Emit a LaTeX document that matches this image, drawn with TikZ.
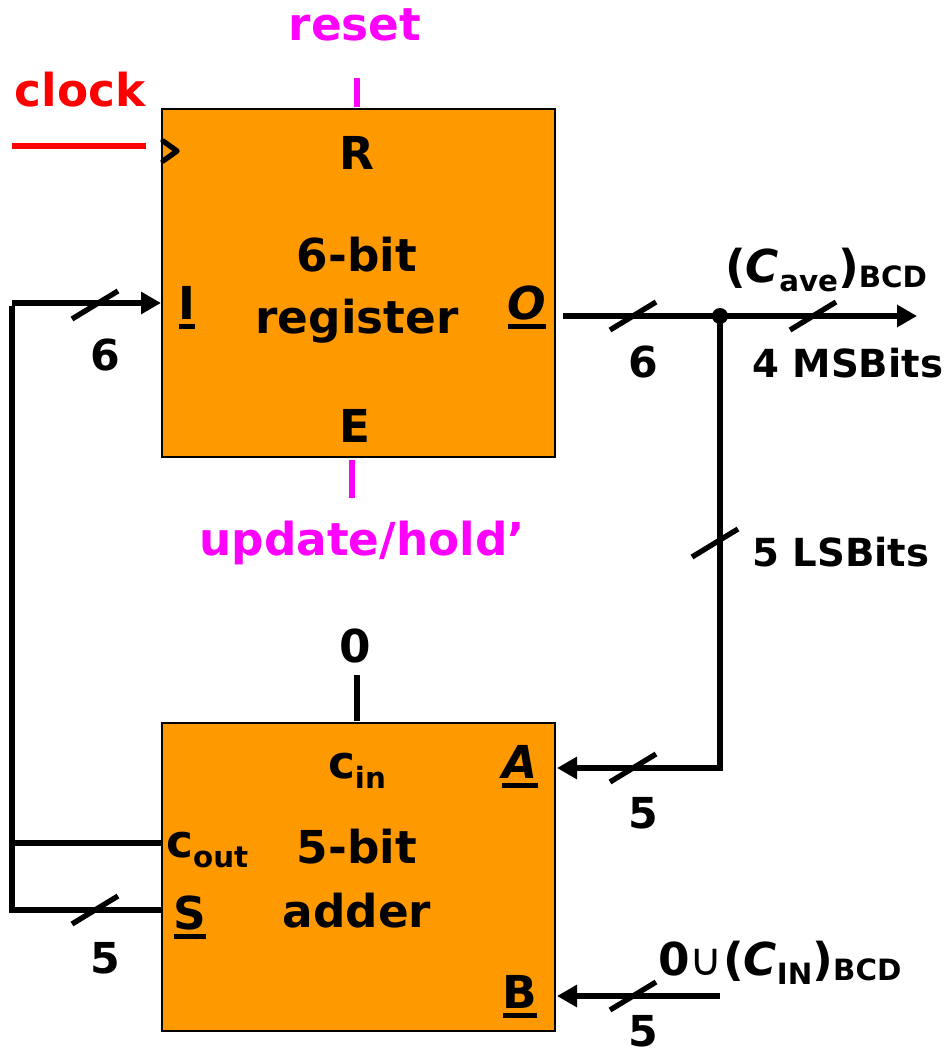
\documentclass[tikz,border=0pt]{standalone}
\usepackage{fontspec}
\setmainfont{DejaVu Sans}
\usetikzlibrary{arrows.meta}
\definecolor{boxorange}{HTML}{FF9900}
\definecolor{magentasig}{HTML}{FF00FF}
\definecolor{redsig}{HTML}{FF0000}
\newcommand\bigf{\fontsize{34}{38}\selectfont\bfseries}
\newcommand\numf{\fontsize{32}{36}\selectfont\bfseries}
\newcommand\midf{\fontsize{29}{33}\selectfont\bfseries}
\newcommand\smallf{\fontsize{22}{25}\selectfont\bfseries}
\newcommand\myul[1]{\setbox0=\hbox{#1}\leavevmode\rlap{\copy0}\raisebox{-7.5pt}{\rule{\wd0}{3.4pt}}}
\begin{document}
\begin{tikzpicture}[x=0.75pt,y=-0.75pt,
  blockbox/.style={draw=black,line width=1.5pt,fill=boxorange,minimum width=294.75pt,minimum height=261pt,inner sep=0pt},
  wire/.style={line width=4pt,line cap=butt},
  arrowwire/.style={wire,-{Triangle[length=15pt,width=16pt]}},
  txt/.style={inner sep=0pt,anchor=base,font=\bigf},
  lbl/.style={inner sep=0pt,anchor=base,font=\numf}
]
\useasboundingbox (0,0) rectangle (950,1055);
\newcommand\busmark[1]{\draw[wire] (#1) ++(-23,14) -- ++(46,-28);}

% boxes
\node[blockbox] (reg) at (358.5,283) {};
\node[blockbox,minimum height=231pt] (add) at (358.5,877) {};

% register texts
\node[txt] (R) at (357,170) {R};
\node[txt] (reg1) at (357,272) {6-bit};
\node[txt] (reg2) at (357,333) {register};
\node[txt] (I) at (187,319) {\myul{I}};
\node[txt] (O) at (527,319) {\myul{\textit{O}}};
\node[txt] (E) at (355,442) {E};

% adder texts
\node[txt] (cin) at (357,778) {c\raisebox{-8pt}{\smallf in}};
\node[txt] (A) at (520,778) {\myul{\textit{A}}};
\node[txt,anchor=base west] (cout) at (166,857) {c\raisebox{-8pt}{\smallf out}};
\node[txt] (add1) at (357,863) {5-bit};
\node[txt] (add2) at (357,927) {adder};
\node[txt] (S) at (190,929) {\myul{S}};
\node[txt] (B) at (520,1008) {\myul{B}};

% control signals
\node[txt,text=magentasig] (reset) at (355,41) {reset};
\coordinate (rtop) at (357,78);
\coordinate (rbot) at (357,107);
\draw[wire,magentasig] (rtop) -- (rbot);

\node[txt,text=redsig] (clock) at (80,107) {clock};
\coordinate (clkL) at (12,146);
\coordinate (clkR) at (146,146);
\draw[wire,redsig] (clkL) -- (clkR);
\coordinate (chA) at (163,141);
\coordinate (chB) at (177,151);
\coordinate (chC) at (163,161);
\draw[line width=4pt,line cap=round,line join=round] (chA) -- (chB) -- (chC);

\coordinate (etop) at (352,460);
\coordinate (ebot) at (352,498);
\draw[wire,magentasig] (etop) -- (ebot);
\node[txt,text=magentasig] (upd) at (362,555) {update/hold'};

% carry-in constant
\node[txt] (zero) at (355,662) {0};
\coordinate (ztop) at (357,675);
\coordinate (zbot) at (357,721);
\draw[wire] (ztop) -- (zbot);

% feedback loop
\coordinate (fbTop) at (12,303);
\coordinate (fbBot) at (12,910);
\coordinate (inI) at (161,303);
\coordinate (sOut) at (162,910);
\draw[wire] (sOut) -- (fbBot) -- ([yshift=-2pt]fbTop);
\draw[arrowwire] (fbTop) -- (inI);
\busmark{95,305}
\node[lbl] (six1) at (105,370) {6};
\coordinate (coL) at (14,843);
\coordinate (coR) at (162,843);
\draw[wire] (coL) -- (coR);
\busmark{95,910}
\node[lbl] (five1) at (105,973) {5};

% output
\coordinate (oStart) at (563,316);
\coordinate (split) at (720,316);
\coordinate (oEnd) at (917,316);
\draw[arrowwire] (oStart) -- (oEnd);
\fill (split) circle (8);
\busmark{633,316}
\busmark{813,316}
\node[lbl] (six2) at (643,377) {6};
\node[txt,anchor=base west,font=\midf] (msb) at (752,377) {4 MSBits};
\node[txt,anchor=base west] (cave) at (725,282) {(\textit{C}\raisebox{-7pt}{\smallf ave})\raisebox{-4pt}{\smallf BCD}};

% LSBits path to A
\coordinate (corner) at (720,768);
\coordinate (inA) at (557,768);
\draw[wire] ([yshift=2pt]split) -- ([yshift=-2pt]corner);
\draw[arrowwire] ([xshift=2pt]corner) -- (inA);
\busmark{715,543}
\node[txt,anchor=base west,font=\midf] (lsb) at (752,566) {5 LSBits};
\busmark{633,768}
\node[lbl] (five2) at (643,828) {5};

% B input
\coordinate (bStart) at (720,996);
\coordinate (inB) at (557,996);
\draw[arrowwire] (bStart) -- (inB);
\busmark{633,996}
\node[lbl] (five3) at (643,1046) {5};
\node[txt,anchor=base west] (cin2) at (658,975) {0{\mdseries∪}(\textit{C}\raisebox{-7pt}{\smallf IN})\raisebox{-4pt}{\smallf BCD}};
\end{tikzpicture}
\end{document}
